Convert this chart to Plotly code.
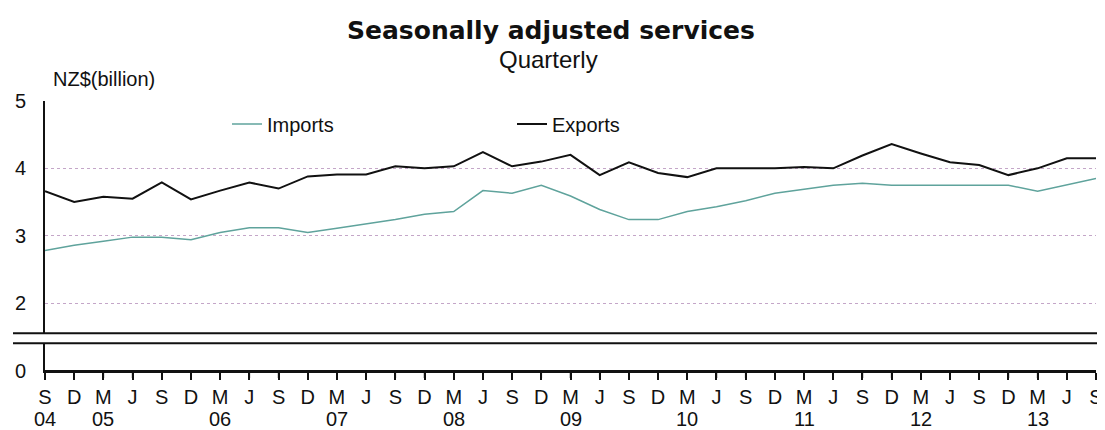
import plotly.graph_objects as go

# ---- data ----
quarter_letters = ["S", "D", "M", "J"] * 9 + ["S"]
year_positions = [0, 2, 6, 10, 14, 18, 22, 26, 30, 34]
year_labels = ["04", "05", "06", "07", "08", "09", "10", "11", "12", "13"]

exports = [3.66, 3.50, 3.58, 3.55, 3.79, 3.54, 3.67, 3.79, 3.70, 3.88, 3.91, 3.91,
           4.03, 4.00, 4.03, 4.24, 4.03, 4.10, 4.20, 3.90, 4.09, 3.93, 3.87, 4.00, 4.00,
           4.00, 4.02, 4.00, 4.19, 4.36, 4.22, 4.09, 4.05, 3.90, 4.00, 4.15, 4.15]
imports = [2.78, 2.86, 2.92, 2.98, 2.98, 2.94, 3.05, 3.12, 3.12, 3.05, 3.11, 3.17,
           3.24, 3.32, 3.36, 3.67, 3.63, 3.75, 3.59, 3.39, 3.24, 3.24, 3.36, 3.43, 3.52,
           3.63, 3.69, 3.75, 3.78, 3.75, 3.75, 3.75, 3.75, 3.75, 3.66, 3.76, 3.85]
x_idx = list(range(len(quarter_letters)))

# page body has an 8px margin: draw the figure 8px smaller and shift coordinates
OFF = 8
W, H = 1105 - OFF, 430 - OFF
def px_x(p): return (p - OFF) / W
def px_y(p): return 1 - (p - OFF) / H

TEXT = "#111111"
FONT = "Liberation Sans, Arial, sans-serif"
IMP_COLOR = "#5fa39c"
EXP_COLOR = "#111111"
AXIS_Y = 371

fig = go.Figure()
# upper panel of the broken axis
fig.add_trace(go.Scatter(x=x_idx, y=imports, mode="lines", name="Imports",
                         line=dict(color=IMP_COLOR, width=1.5), xaxis="x", yaxis="y"))
fig.add_trace(go.Scatter(x=x_idx, y=exports, mode="lines", name="Exports",
                         line=dict(color=EXP_COLOR, width=2), xaxis="x", yaxis="y"))
# lower panel (0 .. break) of the broken axis: same series, out of its range
fig.add_trace(go.Scatter(x=x_idx, y=imports, mode="lines", showlegend=False, hoverinfo="skip",
                         line=dict(color=IMP_COLOR, width=1.5), xaxis="x2", yaxis="y2"))
fig.add_trace(go.Scatter(x=x_idx, y=exports, mode="lines", showlegend=False, hoverinfo="skip",
                         line=dict(color=EXP_COLOR, width=2), xaxis="x2", yaxis="y2"))

xdom = [px_x(45), px_x(1096)]
year_annots = [
    dict(text=lab, x=pos, y=px_y(419), xref="x2", yref="paper", showarrow=False,
         xanchor="center", yanchor="middle", font=dict(size=20, family=FONT, color=TEXT))
    for pos, lab in zip(year_positions, year_labels)
]
# baseline and quarter tick marks of the lower panel
axis_shapes = [dict(type="line", xref="paper", yref="paper", x0=xdom[0], x1=xdom[1],
                    y0=px_y(AXIS_Y), y1=px_y(AXIS_Y), line=dict(color="#111111", width=2))]
axis_shapes += [dict(type="line", xref="x2", yref="paper", x0=i, x1=i,
                     y0=px_y(AXIS_Y), y1=px_y(AXIS_Y + 7), line=dict(color="#111111", width=1.5))
                for i in x_idx]

fig.update_layout(
    width=W, height=H,
    margin=dict(l=0, r=0, t=0, b=0, autoexpand=False),
    paper_bgcolor="white", plot_bgcolor="rgba(0,0,0,0)",
    font=dict(family=FONT, color=TEXT),
    showlegend=True,
    legend=dict(orientation="h", x=px_x(227), y=px_y(124), xanchor="left", yanchor="middle",
                font=dict(size=20, family=FONT, color=TEXT), entrywidth=240,
                entrywidthmode="pixels", bgcolor="rgba(0,0,0,0)"),
    # top panel x axis (hidden, shares range with the bottom one)
    xaxis=dict(domain=xdom, range=[0, 36], anchor="y", automargin=False,
               showline=False, showticklabels=False, ticks="",
               showgrid=False, zeroline=False),
    # bottom panel x axis with the quarter labels
    xaxis2=dict(domain=xdom, range=[0, 36], anchor="y2", matches="x", automargin=False,
                tickmode="array", tickvals=x_idx, ticktext=quarter_letters,
                ticks="outside", ticklen=7, tickcolor="#111111", tickwidth=1.5,
                showline=True, linecolor="#111111", linewidth=2,
                showgrid=False, zeroline=False,
                tickfont=dict(size=20, family=FONT, color=TEXT)),
    yaxis=dict(domain=[px_y(333.3), px_y(100.7)], range=[1.554, 5.003], anchor="x",
               automargin=False,
               tickmode="array", tickvals=[2, 3, 4, 5], ticktext=["2", "3", "4", "5"],
               showgrid=True, gridcolor="#c4a6c8", griddash="dot", gridwidth=1,
               showline=True, linecolor="#111111", linewidth=2, zeroline=False,
               ticks="", tickfont=dict(size=20, family=FONT, color=TEXT), ticklabelstandoff=13),
    yaxis2=dict(domain=[px_y(AXIS_Y), px_y(343.3)], range=[0, 1], anchor="x2",
                automargin=False,
                tickmode="array", tickvals=[0], ticktext=["0"],
                showgrid=False, showline=True, linecolor="#111111", linewidth=2,
                zeroline=False,
                ticks="", tickfont=dict(size=20, family=FONT, color=TEXT), ticklabelstandoff=13),
    annotations=[
        dict(text="<b>Seasonally adjusted services</b>", x=px_x(551), y=px_y(31),
             xref="paper", yref="paper", showarrow=False, xanchor="center", yanchor="middle",
             font=dict(size=25, family="DejaVu Sans, sans-serif", color=TEXT)),
        dict(text="Quarterly", x=px_x(548), y=px_y(60), xref="paper", yref="paper",
             showarrow=False, xanchor="center", yanchor="middle",
             font=dict(size=24, family=FONT, color=TEXT)),
        dict(text="NZ$(billion)", x=px_x(51), y=px_y(79), xref="paper", yref="paper",
             showarrow=False, xanchor="left", yanchor="middle",
             font=dict(size=20, family=FONT, color=TEXT)),
    ] + year_annots,
    shapes=[
        dict(type="line", xref="paper", yref="paper", x0=px_x(13), x1=1, y0=px_y(333.3), y1=px_y(333.3),
             line=dict(color="#111111", width=2)),
        dict(type="line", xref="paper", yref="paper", x0=px_x(13), x1=1, y0=px_y(343.3), y1=px_y(343.3),
             line=dict(color="#111111", width=2)),
    ] + axis_shapes,
)

fig.write_html("out.html")
